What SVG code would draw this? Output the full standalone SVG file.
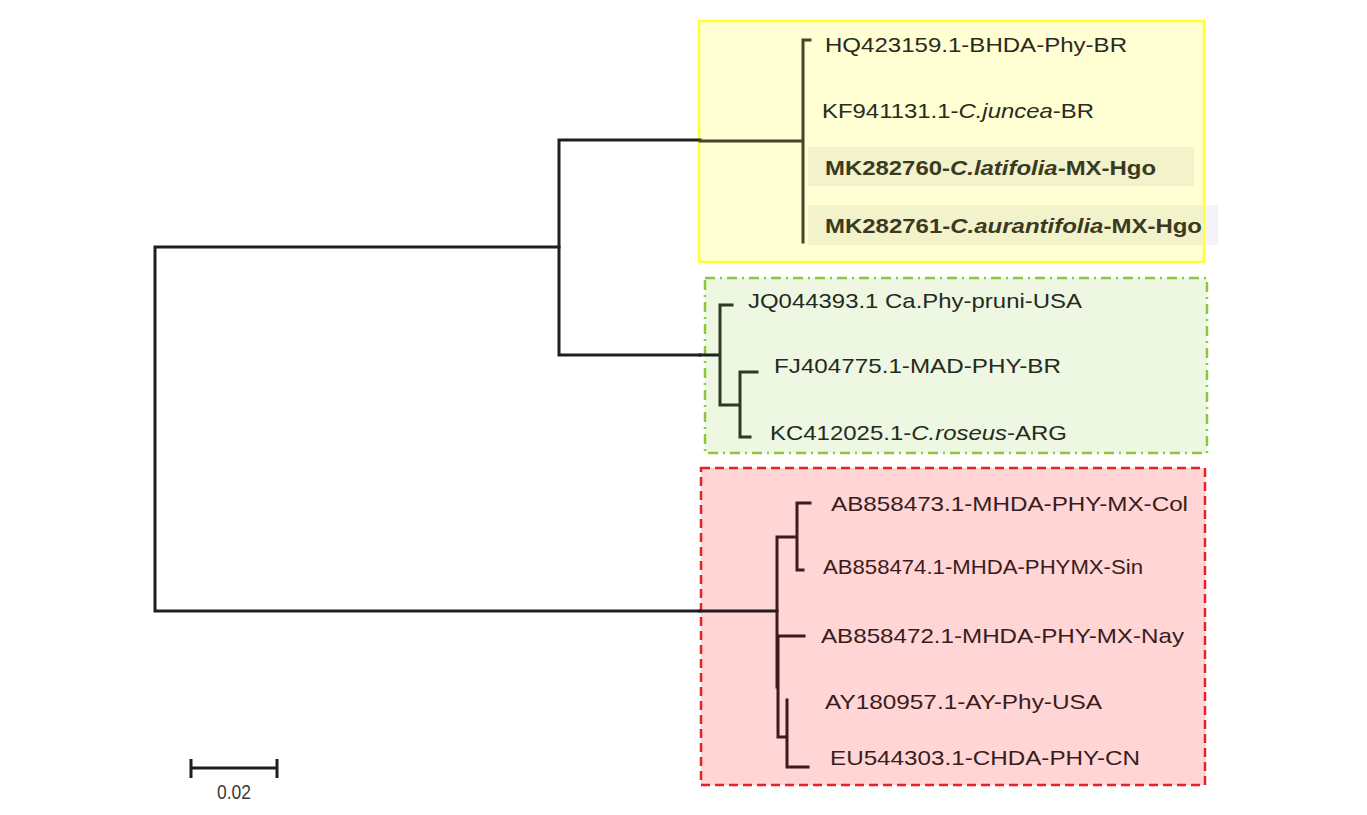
<svg xmlns="http://www.w3.org/2000/svg" width="1367" height="815" viewBox="0 0 1367 815">
<style>
.t{font-family:"Liberation Sans",Arial,sans-serif;font-size:21px;fill:#2a2a22}
.b{font-weight:bold;fill:#3a3a22}
.tr{fill:none;stroke-width:3;stroke-linecap:square}
.k{stroke:#1f1f1f}
.y{stroke:#45452a}
.g{stroke:#2c3a22}
.r{stroke:#3e1a1c}
.rt{fill:#3a1c1c}
.gt{fill:#252a20}
</style>
<rect width="1367" height="815" fill="#ffffff"/>
<g id="clade-yellow">
<rect x="699" y="21" width="505" height="241" fill="#ffffd3" stroke="#ffff33" stroke-width="2.5"/>
<rect x="808" y="147" width="386" height="39" fill="#f2f2cb"/>
<rect x="808" y="205" width="396" height="40" fill="#f2f2cb"/>
<rect x="1205" y="205" width="13" height="40" fill="#f3f3f8"/>
</g>
<g id="clade-green">
<rect x="705" y="278" width="502" height="175" fill="#eef7e1" stroke="#8dc63f" stroke-width="2.5" stroke-dasharray="10 5 2 5"/>
</g>
<g id="clade-red">
<rect x="701" y="468" width="504" height="317" fill="#ffd5d5" stroke="#e52129" stroke-width="2.5" stroke-dasharray="9 5"/>
</g>
<g id="connectors">
<path class="tr k" d="M559 247 H155 V611 H700"/>
<path class="tr k" d="M700 355 H559 V140 H700"/>
<path class="tr k" d="M700 355 H718"/>
<path class="tr y" d="M700 141 H803 M803 40 V242 M803 40 H810"/>
<path class="tr g" d="M720 305 V405 M720 305 H732 M720 405 H740 V372 M740 372 H757 M740 437 V405 M740 437 H750"/>
<path class="tr k" d="M700 611 H777"/>
<path class="tr r" d="M777 537 V687 M777 537 H797 M797 503 V570 M797 503 H810 M797 570 H803 M777 636 H804 M778 636 V737 H787 M787 700 V767 H808"/>
</g>
<g id="labels">
<g id="n1"><text class="t" x="825" y="52" textLength="302" lengthAdjust="spacingAndGlyphs">HQ423159.1-BHDA-Phy-BR</text></g>
<g id="n2"><text class="t" x="822" y="118" textLength="272" lengthAdjust="spacingAndGlyphs">KF941131.1-<tspan font-style="italic">C.juncea</tspan>-BR</text></g>
<g id="n3"><text class="t b" x="825" y="175" textLength="331" lengthAdjust="spacingAndGlyphs">MK282760-<tspan font-style="italic">C.latifolia</tspan>-MX-Hgo</text></g>
<g id="n4"><text class="t b" x="825" y="233" textLength="377" lengthAdjust="spacingAndGlyphs">MK282761-<tspan font-style="italic">C.aurantifolia</tspan>-MX-Hgo</text></g>
<g id="n5"><text class="t gt" x="748" y="308" textLength="334" lengthAdjust="spacingAndGlyphs">JQ044393.1 Ca.Phy-pruni-USA</text></g>
<g id="n6"><text class="t gt" x="774" y="373" textLength="287" lengthAdjust="spacingAndGlyphs">FJ404775.1-MAD-PHY-BR</text></g>
<g id="n7"><text class="t gt" x="770" y="440" textLength="297" lengthAdjust="spacingAndGlyphs">KC412025.1-<tspan font-style="italic">C.roseus</tspan>-ARG</text></g>
<g id="n8"><text class="t rt" x="831" y="511" textLength="357" lengthAdjust="spacingAndGlyphs">AB858473.1-MHDA-PHY-MX-Col</text></g>
<g id="n9"><text class="t rt" x="823" y="574" textLength="320" lengthAdjust="spacingAndGlyphs">AB858474.1-MHDA-PHYMX-Sin</text></g>
<g id="n10"><text class="t rt" x="821" y="643" textLength="363" lengthAdjust="spacingAndGlyphs">AB858472.1-MHDA-PHY-MX-Nay</text></g>
<g id="n11"><text class="t rt" x="825" y="709" textLength="277" lengthAdjust="spacingAndGlyphs">AY180957.1-AY-Phy-USA</text></g>
<g id="n12"><text class="t rt" x="830" y="765" textLength="310" lengthAdjust="spacingAndGlyphs">EU544303.1-CHDA-PHY-CN</text></g>
</g>
<g id="scale-bar">
<path d="M191 768 H277 M191 759 V778 M277 759 V778" fill="none" stroke="#1f1f1f" stroke-width="3"/>
<text x="217" y="799" font-family="'Liberation Sans',Arial,sans-serif" font-size="21" fill="#3a3a3a" textLength="34" lengthAdjust="spacingAndGlyphs">0.02</text>
</g>
</svg>
